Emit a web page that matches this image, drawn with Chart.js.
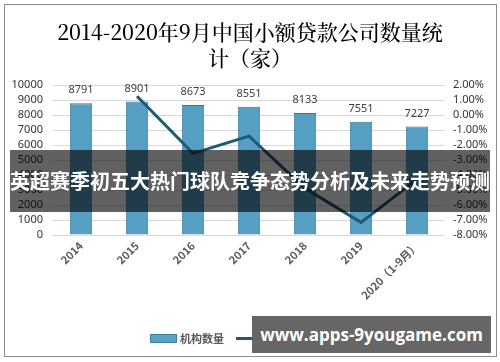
<!DOCTYPE html>
<html><head><meta charset="utf-8">
<script src="https://cdn.jsdelivr.net/npm/chart.js@4"></script>
<style>
html,body{margin:0;padding:0;background:#fff;}
#wrap{position:relative;width:500px;height:362px;overflow:hidden;font-family:"Noto Sans CJK SC",sans-serif;}
#frame{position:absolute;left:4px;top:4px;width:491px;height:351px;border:1px solid #8c8c8c;pointer-events:none;}
canvas{position:absolute;left:0;top:0;}
.title{position:absolute;left:0;width:500px;text-align:center;font-family:"Noto Serif CJK SC","Noto Sans CJK SC",serif;font-size:21px;font-weight:500;color:#000;line-height:24px;}
#legend{position:absolute;top:329px;left:150px;font-size:11px;color:#595959;font-weight:bold;display:flex;align-items:center;height:18px;}
#banner{position:absolute;left:10px;top:150px;width:480px;height:62px;background:rgba(0,0,0,0.62);color:#fff;font-weight:bold;font-size:20px;line-height:62px;text-align:center;white-space:nowrap;}
#wm{position:absolute;left:252px;top:316px;width:239px;height:37px;background:#666;color:#fff;font-family:"Open Sans",sans-serif;font-weight:bold;font-size:17px;line-height:37px;text-align:center;white-space:nowrap;}
</style></head>
<body>
<div id="wrap">
<canvas id="c" width="500" height="362"></canvas>
<div class="title" style="top:19px">2014-2020年9月中国小额贷款公司数量统</div>
<div class="title" style="top:45px">计（家）</div>
<div id="legend"><span style="display:inline-block;width:25px;height:7px;background:#5ba3c6;border:1px solid #3f7f9e;margin-right:3px"></span>机构数量<span style="display:inline-block;width:25px;height:3px;background:#1d5a73;margin:0 4px 0 12px"></span>增长率</div>
<div id="frame"></div>
<div id="banner">英超赛季初五大热门球队竞争态势分析及未来走势预测</div>
<div id="wm">www.apps-9yougame.com</div>
</div>
<script>
const categories = ["2014","2015","2016","2017","2018","2019","2020（1-9月）"];
const counts = [8791, 8901, 8673, 8551, 8133, 7551, 7227];
const growth = [null, 1.25, -2.56, -1.41, -4.89, -7.16, -4.29];

const barLabels = {
  id:'barLabels',
  afterDatasetsDraw(chart){
    const ctx = chart.ctx;
    const meta = chart.getDatasetMeta(1);
    ctx.save();
    ctx.font = '11px "Noto Sans", sans-serif';
    ctx.fillStyle = '#404040';
    ctx.textAlign = 'center';
    ctx.textBaseline = 'middle';
    meta.data.forEach((b,i)=>{ ctx.fillText(String(counts[i]), b.x, b.y - 13); });
    ctx.restore();
  }
};

new Chart(document.getElementById('c'), {
  data:{
    labels: categories,
    datasets:[
      {type:'line', label:'增长率', data: growth, yAxisID:'y1', borderColor:'#1d5a73', borderWidth:3, pointRadius:0, tension:0, spanGaps:false, order:0},
      {type:'bar', label:'机构数量', data: counts, yAxisID:'y', backgroundColor:'#559fc3', borderColor:'#3b7797', borderWidth:1, categoryPercentage:1, barPercentage:0.4, order:1}
    ]
  },
  options:{
    responsive:false, animation:false,
    layout:{padding:{top:85,left:0,right:0,bottom:0}},
    plugins:{legend:{display:false}, title:{display:false}, tooltip:{enabled:false}},
    scales:{
      x:{
        grid:{display:false, drawTicks:false},
        border:{display:false},
        ticks:{autoSkip:false,minRotation:45,maxRotation:45,color:'#595959',font:{size:11,weight:'bold',family:'"Noto Sans CJK SC", sans-serif'},padding:4},
        afterFit(s){ s.height = 127; }
      },
      y:{
        position:'left', min:0, max:10000,
        ticks:{autoSkip:false, stepSize:1000, color:'#333', font:{size:11,family:'"Noto Sans", sans-serif'}, padding:10, callback:v=>String(v)},
        grid:{color:'#d9d9d9', drawTicks:false},
        border:{display:false},
        afterFit(s){ s.width = 53; }
      },
      y1:{
        position:'right', min:-8, max:2,
        ticks:{autoSkip:false, stepSize:1, color:'#333', font:{size:11,family:'"Noto Sans", sans-serif'}, padding:8, callback:v=>v.toFixed(2)+'%'},
        grid:{display:false, drawTicks:false},
        border:{display:false},
        afterFit(s){ s.width = 55; }
      }
    }
  },
  plugins:[barLabels]
});
</script>
</body></html>
